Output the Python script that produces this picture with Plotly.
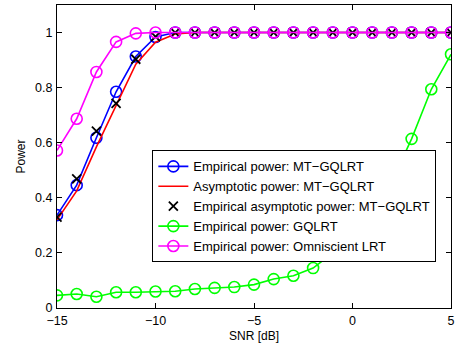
import plotly.graph_objects as go

snr = list(range(-15, 6))
emp_mt = [0.337, 0.446, 0.618, 0.785, 0.913, 0.984, 1.0, 1.0, 1.0, 1.0, 1.0, 1.0, 1.0, 1.0, 1.0, 1.0, 1.0, 1.0, 1.0, 1.0, 1.0]
asy_mt = [0.32, 0.425, 0.585, 0.735, 0.885, 0.965, 0.995, 1.0, 1.0, 1.0, 1.0, 1.0, 1.0, 1.0, 1.0, 1.0, 1.0, 1.0, 1.0, 1.0, 1.0]
emp_asy_mt = [0.33, 0.469, 0.642, 0.743, 0.903, 0.985, 1.0, 1.0, 1.0, 1.0, 1.0, 1.0, 1.0, 1.0, 1.0, 1.0, 1.0, 1.0, 1.0, 1.0, 1.0]
emp_gqlrt = [0.046, 0.051, 0.041, 0.057, 0.057, 0.060, 0.061, 0.069, 0.073, 0.076, 0.085, 0.105, 0.117, 0.145, 0.2, 0.28, 0.36, 0.46, 0.614, 0.794, 0.921]
emp_omni = [0.572, 0.687, 0.857, 0.966, 0.997, 1.0, 1.0, 1.0, 1.0, 1.0, 1.0, 1.0, 1.0, 1.0, 1.0, 1.0, 1.0, 1.0, 1.0, 1.0, 1.0]

x_ticks = [-15, -10, -5, 0, 5]
y_ticks = [0, 0.2, 0.4, 0.6, 0.8, 1]

FONT = "Liberation Sans, Arial, Helvetica, sans-serif"
circ = dict(symbol="circle-open", size=11, line=dict(width=1.6))

fig = go.Figure()
fig.add_trace(go.Scatter(x=snr, y=emp_mt, mode="lines+markers", name="Empirical power: MT\u2212GQLRT",
                         line=dict(color="#0000ff", width=1.6), marker=dict(color="#0000ff", **circ)))
fig.add_trace(go.Scatter(x=snr, y=asy_mt, mode="lines", name="Asymptotic power: MT\u2212GQLRT",
                         line=dict(color="#ff0000", width=1.6)))
fig.add_trace(go.Scatter(x=snr, y=emp_asy_mt, mode="markers", name="Empirical asymptotic power: MT\u2212GQLRT",
                         marker=dict(symbol="x-thin-open", size=9, color="black", line=dict(width=1.8, color="black"))))
fig.add_trace(go.Scatter(x=snr, y=emp_gqlrt, mode="lines+markers", name="Empirical power: GQLRT",
                         line=dict(color="#00ff00", width=1.6), marker=dict(color="#00ff00", **circ)))
fig.add_trace(go.Scatter(x=snr, y=emp_omni, mode="lines+markers", name="Empirical power: Omniscient LRT",
                         line=dict(color="#ff00ff", width=1.6), marker=dict(color="#ff00ff", **circ)))

axis_common = dict(showgrid=False, zeroline=False, showline=True, linecolor="black", linewidth=1.2,
                   mirror="ticks", ticks="inside", ticklen=5, tickcolor="black", tickwidth=1,
                   tickfont=dict(family=FONT, size=12.5, color="black"))
fig.update_xaxes(range=[-15, 5], tickvals=x_ticks, ticktext=[str(t).replace("-", "\u2212") for t in x_ticks],
                 title=dict(text="SNR [dB]", font=dict(family=FONT, size=12, color="black"), standoff=5),
                 ticklabelstandoff=1, **axis_common)
fig.update_yaxes(range=[0, 1.1], tickvals=y_ticks, ticktext=["0", "0.2", "0.4", "0.6", "0.8", "1"],
                 title=dict(text="Power", font=dict(family=FONT, size=12, color="black"), standoff=6),
                 ticklabelstandoff=1, **axis_common)
fig.update_layout(
    width=464, height=343,
    margin=dict(l=57, r=13, t=5, b=35, autoexpand=False),
    paper_bgcolor="white", plot_bgcolor="white",
    font=dict(family=FONT, size=12, color="black"),
    showlegend=True,
    legend=dict(x=0.242, y=0.52, xanchor="left", yanchor="top", bgcolor="white",
                bordercolor="black", borderwidth=1, font=dict(family=FONT, size=13, color="black"),
                tracegroupgap=0, itemwidth=30),
)
fig.write_html("out.html", config={"displayModeBar": False},
               post_script="document.body.style.margin='0';document.body.style.padding='0';")
